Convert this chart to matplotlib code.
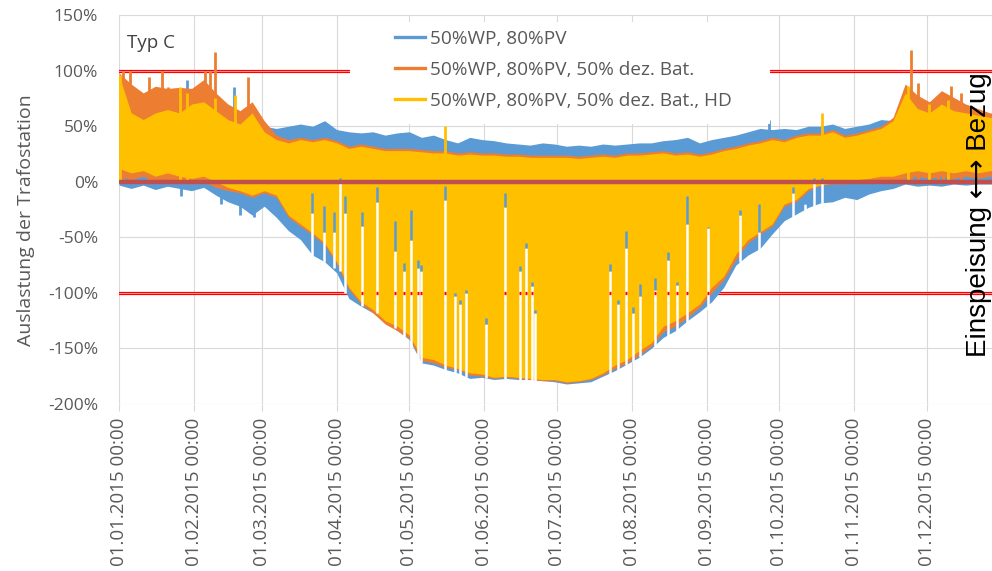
import matplotlib
matplotlib.use('Agg')
import matplotlib.pyplot as plt
from matplotlib.lines import Line2D
from matplotlib.patches import Rectangle

plt.rcParams['font.family'] = ['Open Sans', 'DejaVu Sans']

# envelope nodes every 5 days (day of year 2015), values in % load
days = list(range(0, 366, 5))

blue_hi = [62, 58, 60, 65, 70, 75, 80, 85, 70, 60,
           55, 58, 50, 48, 50, 52, 50, 55, 47, 45,
           44, 45, 42, 44, 45, 40, 42, 38, 35, 40,
           38, 37, 35, 34, 33, 35, 34, 32, 33, 32,
           34, 33, 34, 35, 35, 37, 38, 40, 35, 38,
           40, 42, 45, 48, 47, 48, 47, 50, 50, 52,
           48, 50, 52, 56, 55, 55, 55, 56, 55, 55,
           56, 56, 55, 55]
blue_lo = [-3, -6, -3, -7, -4, -6, -8, -5, -12, -18,
           -22, -30, -22, -32, -44, -52, -66, -72, -82, -105,
           -112, -118, -127, -134, -142, -163, -165, -169, -172, -177,
           -176, -178, -177, -178, -178, -179, -180, -182, -181, -180,
           -175, -170, -164, -158, -150, -140, -134, -125, -117, -108,
           -95, -75, -66, -60, -47, -35, -29, -23, -19, -18,
           -14, -16, -11, -8, -6, -2, -4, -3, -4, -2,
           -3, -2, -2, -2]
orange_hi = [98, 88, 80, 86, 84, 85, 84, 92, 80, 70,
             64, 72, 55, 42, 38, 40, 38, 40, 37, 32,
             34, 32, 30, 30, 30, 29, 28, 28, 26, 27,
             26, 26, 25, 25, 24, 24, 24, 24, 23, 24,
             25, 24, 26, 26, 27, 28, 26, 27, 25, 27,
             30, 32, 35, 37, 40, 38, 42, 44, 44, 47,
             42, 44, 47, 50, 58, 88, 78, 72, 82, 76,
             70, 66, 62, 62]
orange_lo = [5, 2, 5, 0, 3, 0, -2, 0, -5, -8,
             -10, -14, -10, -14, -32, -40, -48, -57, -74, -97,
             -110, -118, -128, -134, -141, -161, -163, -167, -169, -174,
             -175, -177, -176, -177, -178, -179, -179, -181, -180, -178,
             -174, -168, -163, -156, -148, -135, -130, -122, -113, -100,
             -88, -70, -55, -47, -40, -22, -18, -8, -3, -2,
             -2, 0, 0, 2, 0, 3, 5, 3, 5, 3,
             5, 3, 5, 5]
yellow_hi = [96, 62, 56, 62, 65, 62, 70, 72, 64, 56,
             52, 62, 45, 38, 35, 38, 36, 38, 35, 30,
             32, 30, 28, 28, 28, 27, 26, 26, 24, 25,
             24, 24, 23, 23, 22, 22, 22, 22, 21, 22,
             23, 22, 24, 24, 25, 26, 24, 25, 23, 25,
             28, 30, 33, 35, 38, 36, 40, 42, 42, 45,
             40, 42, 45, 48, 55, 80, 66, 62, 70, 64,
             62, 60, 58, 58]
yellow_lo = [12, 8, 10, 5, 8, 5, 3, 5, 0, -5,
             -8, -12, -8, -12, -30, -38, -46, -55, -72, -95,
             -108, -115, -125, -130, -138, -158, -160, -165, -168, -172,
             -173, -176, -175, -176, -177, -178, -178, -180, -179, -177,
             -172, -165, -160, -152, -145, -130, -125, -118, -110, -95,
             -85, -65, -52, -45, -38, -20, -16, -6, -3, -1,
             0, 2, 3, 5, 5, 8, 10, 8, 10, 8,
             10, 8, 10, 10]

# single-day peaks and dips
blue_spike_days = [28, 47.5, 268.6, 25.8, 42, 50, 56]
blue_spike_vals = [92, 85, 56, -13, -20, -30, -32]
orange_spike_days = [1.5, 4.5, 12.2, 17.6, 20.4, 23.1, 31.4, 35.5, 37.6, 39.7, 43.8, 53.5,
                     327.3, 330.2, 338.4, 340.5, 343.8, 347.9]
orange_spike_vals = [100, 100, 94, 100, 85, 80, 85, 100, 100, 117, 70, 94,
                     119, 89, 77, 70, 86, 80]
yellow_spike_days = [0.4, 25.2, 28, 39.7, 48, 134.7, 290.5, 326, 335, 342.6]
yellow_spike_vals = [96, 85, 80, 75, 78, 50, 62, 86, 70, 74]

# cloudy days: feed-in minimum much higher than the surrounding days
gap_days = [79.8, 84.7, 88.8, 91.3, 93.4, 100.4, 106.6, 114.0, 117.8, 120.7,
            123.6, 124.8, 134.7, 138.8, 140.9, 143.4, 151.7, 159.5, 165.7, 168.2,
            170.7, 171.9, 202.9, 206.2, 209.5, 212.4, 215.3, 221.5, 226.9, 230.6,
            234.7, 243.4, 256.6, 264.5, 278.5, 283.5, 287.2, 290.5]
gap_yellow = [-10, -22, -27, 3, -13, -27, -5, -35, -73, -25,
              -70, -75, -4, -100, -106, -97, -123, -10, -76, -55,
              -90, -115, -74, -106, -44, -113, -92, -87, -63, -90,
              -13, -41, -25, -20, -5, -15, 3, 3]
gap_blue = [-28, -45, -45, 0, -28, -40, -18, -62, -80, -52,
            -78, -80, -16, -103, -110, -100, -128, -23, -80, -60,
            -94, -118, -80, -110, -60, -118, -103, -97, -70, -93,
            -38, -42, -30, -45, -10, -20, 0, 0]
gap_bottom = [-68, -72, -78, -80, -100, -112, -118, -132, -140, -150,
              -160, -163, -170, -172, -174, -176, -177, -178, -178, -178,
              -179, -179, -173, -170, -165, -162, -158, -148, -140, -134,
              -128, -115, -72, -62, -32, -25, -22, -19]

month_days = [0, 31, 59, 90, 120, 151, 181, 212, 243, 273, 304, 334]
month_labels = ['01.%02d.2015 00:00' % m for m in range(1, 13)]
labels = ['50%WP, 80%PV', '50%WP, 80%PV, 50% dez. Bat.', '50%WP, 80%PV, 50% dez. Bat., HD']

c_blue = '#5B9BD5'
c_orange = '#ED7D31'
c_yellow = '#FFC000'
c_text = '#595959'
c_grid = '#D9D9D9'

fig = plt.figure(figsize=(9.92, 5.71), dpi=100)
ax = fig.add_axes([0.12, 0.2925, 0.890, 0.681])

ax.set_xlim(0, 365)
ax.set_ylim(-200, 150)

for d in month_days:
    ax.axvline(d, color=c_grid, lw=0.8, zorder=0.5)
for v in range(-200, 151, 50):
    ax.axhline(v, color=c_grid, lw=0.8, zorder=0.5)

# limits +-100 %
for lvl in (100, -100):
    ax.axhline(lvl, color='#FF0000', lw=2.3, zorder=1)
    ax.axhline(lvl, color='#FFC8C8', lw=0.5, zorder=1.1)

ax.fill_between(days, blue_lo, blue_hi, color=c_blue, lw=0, zorder=2)
ax.vlines(blue_spike_days, 0, blue_spike_vals, color=c_blue, lw=2, zorder=2)
ax.fill_between(days, orange_lo, orange_hi, color=c_orange, lw=0, zorder=3)
ax.vlines(orange_spike_days, 0, orange_spike_vals, color=c_orange, lw=2, zorder=3)
ax.fill_between(days, yellow_lo, yellow_hi, color=c_yellow, lw=0, zorder=4)
ax.vlines(yellow_spike_days, 0, yellow_spike_vals, color=c_yellow, lw=2, zorder=4)

# cloudy days cut white lines into the feed-in area
ax.vlines(gap_days, gap_bottom, gap_blue, color='white', lw=1.8, zorder=5)
ax.vlines(gap_days, gap_blue, gap_yellow, color=c_blue, lw=1.8, zorder=5)
for d, lo, hi in zip(gap_days, gap_bottom, gap_blue):
    if lo < -100 < hi:
        ax.hlines(-100, d - 0.45, d + 0.45, color='#FF0000', lw=2.3, zorder=5.2)

ax.axhline(0, color='#C0504D', lw=3.2, zorder=6)

# legend background
ax.add_patch(Rectangle((0.262, 0.72), 0.475, 0.262, transform=ax.transAxes,
                       facecolor='white', edgecolor='none', zorder=7))
handles = [Line2D([], [], color=c, lw=2.4) for c in (c_blue, c_orange, c_yellow)]
leg = ax.legend(handles, labels, loc='upper left', bbox_to_anchor=(0.3126, 0.962),
                frameon=False, fontsize=13.7, handlelength=1.6, handletextpad=0.25,
                labelspacing=0.68, borderpad=0, borderaxespad=0)
leg.set_zorder(8)
for t in leg.get_texts():
    t.set_color(c_text)

ax.set_xticks(month_days)
ax.set_xticklabels(month_labels, rotation=90, fontsize=13.5, color=c_text)
ax.set_yticks(range(-200, 151, 50))
ax.set_yticklabels(['%d%%' % v for v in range(-200, 151, 50)], fontsize=12.5, color=c_text)
ax.tick_params(axis='x', length=5, color=c_grid, pad=5)
ax.tick_params(axis='y', length=0, pad=15)
for s in ax.spines.values():
    s.set_visible(False)

ax.text(0.009, 0.928, 'Typ C', transform=ax.transAxes, fontsize=13.5,
        color='#404040', ha='left', va='center', zorder=9)
fig.text(0.026, 0.615, 'Auslastung der Trafostation', rotation=90, fontsize=14,
         color=c_text, ha='center', va='center')
fig.text(0.987, 0.6235, 'Einspeisung \u27f7 Bezug', rotation=90, fontsize=20,
         family=['Liberation Sans', 'DejaVu Sans'], color='black', ha='center', va='center')

fig.savefig('out.png', dpi=100)
